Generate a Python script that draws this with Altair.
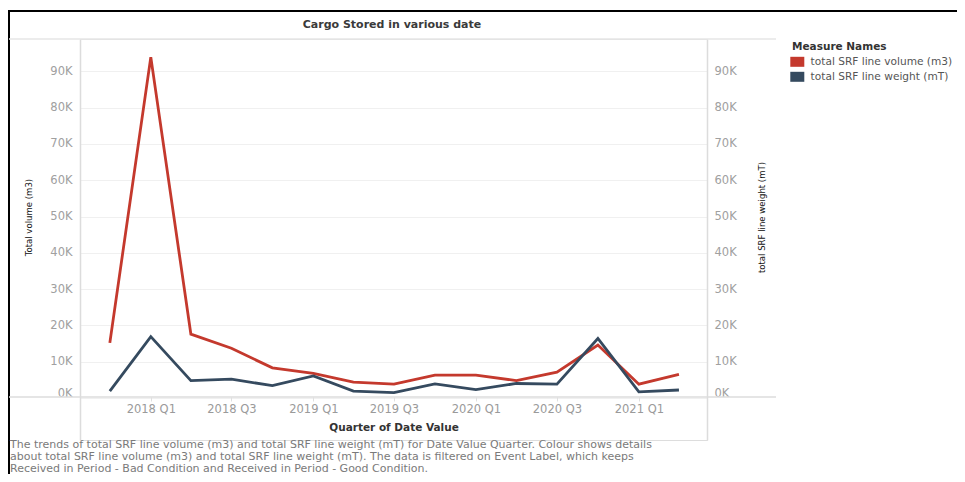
import altair as alt
import pandas as pd

quarters = ["2017 Q4", "2018 Q1", "2018 Q2", "2018 Q3", "2018 Q4",
            "2019 Q1", "2019 Q2", "2019 Q3", "2019 Q4",
            "2020 Q1", "2020 Q2", "2020 Q3", "2020 Q4",
            "2021 Q1", "2021 Q2"]
volume_m3 = [15200, 93900, 17600, 13700, 8300, 6800, 4400, 3800, 6300,
             6300, 4800, 7100, 14600, 3800, 6500]
weight_mt = [1900, 16900, 4800, 5200, 3400, 6100, 1900, 1500, 3900,
             2300, 4000, 3800, 16400, 1700, 2200]
measures = ["total SRF line volume (m3)", "total SRF line weight (mT)"]
colors = ["#c4392d", "#354a5f"]
tick_quarters = ["2018 Q1", "2018 Q3", "2019 Q1", "2019 Q3", "2020 Q1", "2020 Q3", "2021 Q1"]
y_ticks = [0, 10000, 20000, 30000, 40000, 50000, 60000, 70000, 80000, 90000]
chart_title = "Cargo Stored in various date"
caption = [
    "The trends of total SRF line volume (m3) and total SRF line weight (mT) for Date Value Quarter.  Colour shows details",
    "about total SRF line volume (m3) and total SRF line weight (mT). The data is filtered on Event Label, which keeps",
    "Received in Period - Bad Condition and Received in Period - Good Condition.",
]


def q_to_date(q):
    y, qq = q.split(" Q")
    return f"{y}-{(int(qq) - 1) * 3 + 1:02d}-01"


def q_to_dt(q):
    y, qq = q.split(" Q")
    return alt.DateTime(year=int(y), month=(int(qq) - 1) * 3 + 1, date=1, utc=True)


rows = []
for q, v, w in zip(quarters, volume_m3, weight_mt):
    rows.append({"date": q_to_date(q), "measure": measures[0], "value": v})
    rows.append({"date": q_to_date(q), "measure": measures[1], "value": w})
df = pd.DataFrame(rows)

FONT = "DejaVu Sans"
NARROW = "DejaVu Sans Condensed, Liberation Sans, sans-serif"
W, H = 627, 401
ydom = [-11570, 98900]

xenc = alt.X(
    "date:T",
    scale=alt.Scale(type="utc", domain=[alt.DateTime(year=2017, month=7, date=26, utc=True),
                                         alt.DateTime(year=2021, month=6, date=3, utc=True)]),
    axis=alt.Axis(
        values=[q_to_dt(q) for q in tick_quarters],
        labelExpr="utcFormat(datum.value, '%Y Q%q')",
        orient="bottom", offset=-43, domain=False, grid=False,
        ticks=True, tickSize=4, tickColor="#e0e0e0",
        labelColor="#9a9a9a", labelFont=FONT, labelFontSize=11.5, labelPadding=2,
        title="Quarter of Date Value", titleFont=FONT, titleFontSize=10.5,
        titleFontWeight="bold", titleColor="#333333", titlePadding=8,
    ),
)

legend = alt.Legend(
    title="Measure Names", orient="none", legendX=712, legendY=3,
    titleFont=FONT, titleFontSize=10.5, titleFontWeight="bold", titleColor="#333333",
    titlePadding=4,
    labelFont=FONT, labelFontSize=10.6, labelColor="#555555", labelLimit=400,
    symbolType="M-1.4,-1H1.4V1H-1.4Z", symbolSize=100, symbolStrokeWidth=0,
    symbolOpacity=1, rowPadding=4, labelOffset=8,
)
color = alt.Color("measure:N", scale=alt.Scale(domain=measures, range=colors), legend=legend)

label_expr = "format(datum.value / 1000, 'd') + 'K'"
base_axis = dict(
    values=y_ticks, labelExpr=label_expr, ticks=False,
    domain=True, domainColor="#dcdcdc", domainWidth=1.5,
    labelColor="#a0a0a0", labelFont=FONT, labelFontSize=11.5,
    labelBaseline={"condition": {"test": "datum.value == 0", "value": "bottom"}, "value": "middle"},
    titleFont=NARROW, titleFontSize=9.5, titleFontWeight="normal", titleColor="#111111",
    titleY=178, titleBaseline="middle", titleAngle=270,
)

# invisible filled marks so that the colour legend shows filled swatches
legend_layer = alt.Chart(df).mark_square(filled=True, opacity=0, size=1).encode(
    x=alt.value(0), y=alt.value(0), color=color)

vol = alt.Chart(df).transform_filter(alt.datum.measure == measures[0]).mark_line(
    strokeWidth=2.8, strokeJoin="miter"
).encode(
    x=xenc,
    y=alt.Y("value:Q", scale=alt.Scale(domain=ydom, nice=False, zero=False),
            axis=alt.Axis(orient="left", grid=True, gridColor="#f0f0f0", labelPadding=8,
                          title="Total volume (m3)", titleX=-52, **base_axis)),
    color=color,
)

wt = alt.Chart(df).transform_filter(alt.datum.measure == measures[1]).mark_line(
    strokeWidth=2.8, strokeJoin="miter"
).encode(
    x=xenc,
    y=alt.Y("value:Q", scale=alt.Scale(domain=ydom, nice=False, zero=False),
            axis=alt.Axis(orient="right", grid=False, labelPadding=7,
                          title="total SRF line weight (mT)", titleX=54, **base_axis)),
    color=color,
)

one = pd.DataFrame({"k": [0]})
zero_line = alt.Chart(one).mark_rule(color="#dddddd", strokeWidth=1.5).encode(
    x=alt.value(-71), x2=alt.value(696), y=alt.value(358))
top_line = alt.Chart(one).mark_rule(color="#e6e6e6", strokeWidth=1.5).encode(
    x=alt.value(-71), x2=alt.value(696), y=alt.value(0))
border_top = alt.Chart(one).mark_rule(color="#000000", strokeWidth=2).encode(
    x=alt.value(-72), x2=alt.value(900), y=alt.value(-28))
border_left = alt.Chart(one).mark_rule(color="#000000", strokeWidth=2).encode(
    x=alt.value(-71), y=alt.value(-29), y2=alt.value(460))
title_txt = alt.Chart(one).mark_text(
    align="center", baseline="middle", font=FONT, fontSize=11, fontWeight="bold", color="#3a3a3a"
).encode(x=alt.value(312), y=alt.value(-14), text=alt.value(chart_title))
cap = alt.Chart(one).mark_text(
    align="left", baseline="top", font=FONT, fontSize=11, color="#7a7a7a", lineHeight=12
).encode(x=alt.value(-70), y=alt.value(400), text=alt.value(caption))

chart = alt.layer(
    legend_layer, border_top, border_left, top_line, vol, wt, zero_line, title_txt, cap
).resolve_scale(y="independent").properties(
    width=W, height=H,
    autosize=alt.AutoSizeParams(type="none"),
    padding={"left": 72, "top": 31, "right": 250, "bottom": 34},
).configure_view(stroke=None).configure(background="white")

chart.save("out.html", embed_options={"renderer": "svg", "actions": False})
